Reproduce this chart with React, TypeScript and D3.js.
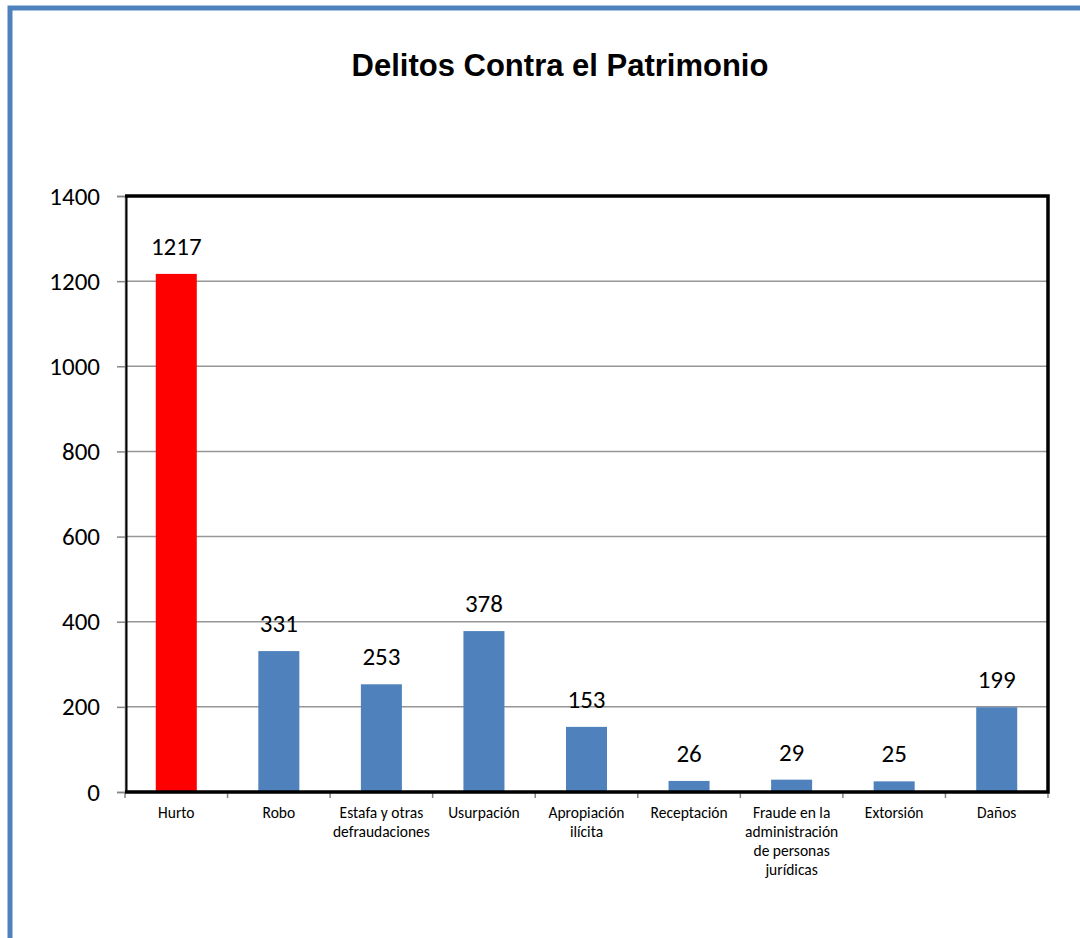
import React, { useEffect, useRef } from 'react';
import * as d3 from 'd3';

const categories = [
  ['Hurto'],
  ['Robo'],
  ['Estafa y otras', 'defraudaciones'],
  ['Usurpación'],
  ['Apropiación', 'ilícita'],
  ['Receptación'],
  ['Fraude en la', 'administración', 'de personas', 'jurídicas'],
  ['Extorsión'],
  ['Daños'],
];
const values = [1217, 331, 253, 378, 153, 26, 29, 25, 199];
const barColors = ['#FF0000', '#4F81BD', '#4F81BD', '#4F81BD', '#4F81BD', '#4F81BD', '#4F81BD', '#4F81BD', '#4F81BD'];
const yTicks = [0, 200, 400, 600, 800, 1000, 1200, 1400];

const W = 1080, H = 938;
const margin = { top: 196, right: 32, bottom: 146, left: 125 };
const font = 'Carlito, Calibri, Lato, sans-serif';

export default function App() {
  const ref = useRef<SVGSVGElement>(null);

  useEffect(() => {
    const svg = d3.select(ref.current);
    svg.selectAll('*').remove();
    const w = W - margin.left - margin.right;
    const h = H - margin.top - margin.bottom;

    // outer chart border (only left and top are visible)
    svg.append('rect').attr('x', 10).attr('y', 8).attr('width', W + 20).attr('height', H + 20)
      .attr('fill', 'white').attr('stroke', '#4F81BD').attr('stroke-width', 5);

    svg.append('text').attr('x', 560).attr('y', 76).attr('text-anchor', 'middle')
      .attr('font-family', 'Liberation Sans, Arial, sans-serif').attr('font-weight', 'bold')
      .attr('font-size', 31).text('Delitos Contra el Patrimonio');

    const g = svg.append('g').attr('transform', `translate(${margin.left}, ${margin.top})`);

    const x = d3.scaleBand<number>().domain(d3.range(values.length)).range([0, w]).paddingInner(0.6).paddingOuter(0.3);
    const y = d3.scaleLinear().domain([0, 1400]).range([h, 0]);

    // gridlines
    g.selectAll('.grid').data(yTicks.slice(1)).join('line').attr('class', 'grid')
      .attr('x1', 0).attr('x2', w).attr('y1', d => y(d)).attr('y2', d => y(d))
      .attr('stroke', '#969696').attr('stroke-width', 1.5);

    // y axis
    const yAxis = g.append('g').call(d3.axisLeft(y).tickValues(yTicks).tickFormat(d3.format('d')).tickSize(8).tickPadding(17));
    yAxis.select('.domain').attr('stroke', '#868686').attr('stroke-width', 1.5);
    yAxis.selectAll('.tick line').attr('stroke', '#868686').attr('stroke-width', 1.5);
    yAxis.selectAll('.tick text').attr('font-family', font).attr('font-size', 25).attr('fill', '#000');

    // bars
    g.selectAll('.bar').data(values).join('rect').attr('class', 'bar')
      .attr('x', (_, i) => x(i)!).attr('width', x.bandwidth())
      .attr('y', d => y(d)).attr('height', d => h - y(d))
      .attr('fill', (_, i) => barColors[i]);

    // value labels
    g.selectAll('.val').data(values).join('text').attr('class', 'val')
      .attr('x', (_, i) => x(i)! + x.bandwidth() / 2).attr('y', d => y(d) - 19)
      .attr('text-anchor', 'middle').attr('font-family', font).attr('font-size', 25)
      .text(d => d);

    // x axis ticks between categories
    const step = w / values.length;
    g.append('line').attr('x1', 0).attr('x2', w).attr('y1', h).attr('y2', h)
      .attr('stroke', '#868686').attr('stroke-width', 1.5);
    g.selectAll('.xt').data(d3.range(values.length + 1)).join('line').attr('class', 'xt')
      .attr('x1', d => d * step).attr('x2', d => d * step).attr('y1', h).attr('y2', h + 6)
      .attr('stroke', '#868686').attr('stroke-width', 1.5);

    // x labels
    const xl = g.selectAll('.xl').data(categories).join('text').attr('class', 'xl')
      .attr('text-anchor', 'middle').attr('font-family', font).attr('font-size', 15.5)
      .attr('transform', (_, i) => `translate(${x(i)! + x.bandwidth() / 2}, ${h + 26})`);
    xl.selectAll('tspan').data(d => d).join('tspan').attr('x', 0).attr('dy', (_, j) => (j === 0 ? 0 : 19)).text(d => d);

    // plot frame
    g.append('path').attr('d', `M0,0 H${w} V${h} H0`).attr('fill', 'none')
      .attr('stroke', '#000').attr('stroke-width', 3.5);
    g.append('line').attr('x1', 1.5).attr('x2', 1.5).attr('y1', 0).attr('y2', h)
      .attr('stroke', '#000').attr('stroke-width', 2);
  }, []);

  return <svg ref={ref} width={W} height={H} style={{ position: 'absolute', left: 0, top: 0 }} />;
}
